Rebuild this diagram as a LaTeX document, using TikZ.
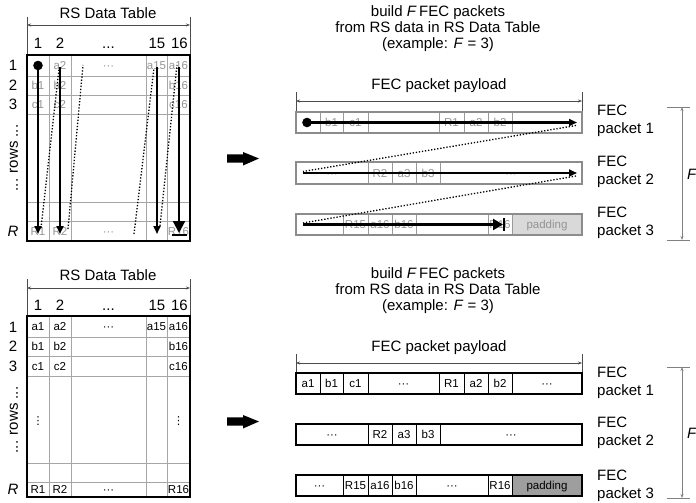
\documentclass[tikz,border=0pt]{standalone}
\usepackage{fontspec}
\setmainfont{Liberation Sans}
\newfontfamily\dvsfont{DejaVu Sans}
\usetikzlibrary{arrows.meta}
\newcommand\pc[7]{\node[pcellbase,#6,minimum width={(#3-#2)*1pt},minimum height={(#5-#4)*1pt}] (#1) at ({(#2+#3)/2},{(#4+#5)/2}) {#7};}
\tikzset{
  big/.style={font=\fontsize{15}{18}\selectfont, inner sep=0pt},
  colnum/.style={big, anchor=base},
  celltext/.style={font=\fontsize{11.5}{13}\selectfont, inner sep=0pt, text height=9.5pt, text depth=1.3pt},
  ttop/.style={celltext, text=black!42},
  tbot/.style={celltext, text=black},
  pcellbase/.style={draw, inner sep=0pt, font=\fontsize{11.5}{13}\selectfont, text height=9.5pt, text depth=1.3pt, anchor=center},
  gp/.style={draw=black!40, text=black!42, line width=0.8pt},
  bp/.style={draw=black, text=black, line width=0.8pt},
  gpo/.style={draw=black!45, line width=2pt},
  bpo/.style={draw=black, line width=2pt},
  gridl/.style={draw=black!35, line width=0.8pt},
  outerbox/.style={draw=black, line width=2.4pt},
  dimline/.style={draw=black!70, line width=0.6pt},
  dimarr/.style={dimline, {Stealth[length=4pt,width=3pt]}-{Stealth[length=4pt,width=3pt]}},
  fdim/.style={draw=black!50, line width=0.8pt},
  fdimarr/.style={fdim, {Stealth[length=4pt,width=3pt]}-{Stealth[length=4pt,width=3pt]}},
  flow/.style={line width=2.2pt, -{Triangle[length=8pt,width=7pt]}},
  ret/.style={line width=1.3pt, dash pattern=on 1.3pt off 1.8pt},
  pklabel/.style={font=\fontsize{15}{18}\selectfont, inner sep=0pt, align=left, anchor=west},
  headtext/.style={font=\fontsize{15}{16}\selectfont, inner sep=0pt, align=center}
}
\begin{document}
\begin{tikzpicture}[x=1pt,y=-1pt]
\useasboundingbox (0,0) rectangle (696,503);

% ================= TOP TABLE =================
\node[big] (tt) at (108,13) {RS Data Table};
\coordinate (tdl0) at (27,17); \coordinate (tdl1) at (27,55);
\coordinate (tdr0) at (190,17); \coordinate (tdr1) at (190,55);
\draw[dimline] (tdl0) -- (tdl1);
\draw[dimline] (tdr0) -- (tdr1);
\coordinate (tdl) at (27,25); \coordinate (tdr) at (190,25);
\draw[dimarr] (tdl) -- (tdr);
\node[colnum] (tcn1) at (38,48.5) {1};
\node[colnum] (tcn2) at (60,48.5) {2};
\node[colnum] (tcnd) at (108.5,48.5) {...};
\node[colnum] (tcn15) at (157,48.5) {15};
\node[colnum] (tcn16) at (179.5,48.5) {16};
\node[big] (trl1) at (13,65.5) {1};
\node[big] (trl2) at (13,85.5) {2};
\node[big] (trl3) at (13,104.5) {3};
\node[big, rotate=90] (trlrows) at (14,158) {... rows ...};
\node[big] (trlR) at (13,231) {\textit{R}};

\foreach \x in {49,71,146,167} \draw[gridl] (\x,55) -- (\x,241);
\foreach \y in {76,95,114,202,221} \draw[gridl] (27,\y) -- (190,\y);

\node[ttop] (ta2) at (60,65.5) {a2};
\node[ttop] (tad) at (108.5,65.5) {···};
\node[ttop] (ta15) at (156.5,65.5) {a15};
\node[ttop] (ta16) at (178.5,65.5) {a16};
\node[ttop] (tb1) at (38,85.5) {b1};
\node[ttop] (tb2) at (60,85.5) {b2};
\node[ttop] (tb16) at (178.5,85.5) {b16};
\node[ttop] (tc1) at (38,104.5) {c1};
\node[ttop] (tc2) at (60,104.5) {c2};
\node[ttop] (tc16) at (178.5,104.5) {c16};
\node[ttop] (tR1) at (38,231) {R1};
\node[ttop] (tR2) at (60,231) {R2};
\node[ttop] (tRd) at (108.5,231) {···};
\node[ttop] (tR16) at (178.5,231) {R16};

\draw[outerbox] (27,55) rectangle (190,241);

% reading order arrows
\coordinate (s1) at (38,65.5);  \coordinate (e1) at (38,234);
\coordinate (s2) at (60,67);  \coordinate (e2) at (60,234);
\coordinate (s15) at (157,67); \coordinate (e15) at (157,234);
\coordinate (s16) at (179,67); \coordinate (e16) at (179,233);
\fill (s1) circle (4.8);
\draw[flow] (s1) -- (e1);
\draw[flow] (s2) -- (e2);
\draw[flow] (s15) -- (e15);
\draw[line width=2.2pt, -{Triangle[length=12pt,width=12pt]}] (s16) -- (e16);
\coordinate (bar16a) at (172,235); \coordinate (bar16b) at (187,235);
\draw[line width=2pt] (bar16a) -- (bar16b);
\coordinate (r1a) at (41,228);  \coordinate (r1b) at (59,69);
\coordinate (r2a) at (68,229);  \coordinate (r2b) at (83,65);
\coordinate (r3a) at (134,234); \coordinate (r3b) at (154,68);
\coordinate (r4a) at (160,226); \coordinate (r4b) at (177,65);
\draw[ret] (r1a) -- (r1b);
\draw[ret] (r2a) -- (r2b);
\draw[ret] (r3a) -- (r3b);
\draw[ret] (r4a) -- (r4b);

% big arrow top
\fill (227,154.3) -- (243,154.3) -- (243,152) -- (259,158.5) -- (243,165.5) -- (243,162.7) -- (227,162.7) -- cycle;

% ================= TOP RIGHT =================
\node[headtext] (thd) at (438,29) {build \textit{F}\,FEC packets\\from RS data in RS Data Table\\(example: \textit{F} = 3)};
\node[big] (tpl) at (439,86) {FEC packet payload};
\coordinate (tpl0) at (296,92); \coordinate (tpl1) at (296,112);
\coordinate (tpr0) at (582,92); \coordinate (tpr1) at (582,112);
\draw[dimline] (tpl0) -- (tpl1);
\draw[dimline] (tpr0) -- (tpr1);
\coordinate (tpal) at (296,101); \coordinate (tpar) at (582,101);
\draw[dimarr] (tpal) -- (tpar);

\pc{tp1a}{296}{320}{112}{133}{gp}{}
\pc{tp1b}{320}{343}{112}{133}{gp}{b1}
\pc{tp1c}{343}{368}{112}{133}{gp}{c1}
\pc{tp1d}{368}{439}{112}{133}{gp}{···}
\pc{tp1e}{439}{464}{112}{133}{gp}{R1}
\pc{tp1f}{464}{488}{112}{133}{gp}{a2}
\pc{tp1g}{488}{512}{112}{133}{gp}{b2}
\pc{tp1h}{512}{582}{112}{133}{gp}{···}
\draw[gpo] (296,112) rectangle (582,133);

\pc{tp2a}{296}{368}{162}{184}{gp}{···}
\pc{tp2b}{368}{392}{162}{184}{gp}{R2}
\pc{tp2c}{392}{416}{162}{184}{gp}{a3}
\pc{tp2d}{416}{440}{162}{184}{gp}{b3}
\pc{tp2e}{440}{582}{162}{184}{gp}{···}
\draw[gpo] (296,162) rectangle (582,184);

\pc{tp3a}{296}{343}{214}{235}{gp}{···}
\pc{tp3b}{343}{368}{214}{235}{gp}{R15}
\pc{tp3c}{368}{392}{214}{235}{gp}{a16}
\pc{tp3d}{392}{416}{214}{235}{gp}{b16}
\pc{tp3e}{416}{488}{214}{235}{gp}{···}
\pc{tp3f}{488}{512}{214}{235}{gp}{R16}
\pc{tp3g}{512}{582}{214}{235}{gp,fill=black!15}{padding}
\draw[gpo] (296,214) rectangle (582,235);

\coordinate (p1s) at (307,122.5); \coordinate (p1e) at (577,122.5);
\coordinate (p2s) at (303,173);   \coordinate (p2e) at (577,173);
\coordinate (p3s) at (303,224.5); \coordinate (p3e) at (503,224.5);
\fill (p1s) circle (4.8);
\draw[flow] (p1s) -- (p1e);
\draw[flow] (p2s) -- (p2e);
\draw[line width=2.2pt, -{Triangle[length=10pt,width=11pt]}] (p3s) -- (p3e);
\coordinate (p3bara) at (504,218); \coordinate (p3barb) at (504,231);
\draw[line width=2pt] (p3bara) -- (p3barb);
\coordinate (q1a) at (576,125.5); \coordinate (q1b) at (303,171.5);
\coordinate (q2a) at (576,176);   \coordinate (q2b) at (303,223);
\draw[ret] (q1a) -- (q1b);
\draw[ret] (q2a) -- (q2b);

\node[pklabel] (tl1) at (597,120.5) {FEC\\packet 1};
\node[pklabel] (tl2) at (597,172) {FEC\\packet 2};
\node[pklabel] (tl3) at (597,222.5) {FEC\\packet 3};

\coordinate (tf0a) at (667,107); \coordinate (tf0b) at (690,107);
\coordinate (tf1a) at (667,240); \coordinate (tf1b) at (690,240);
\coordinate (tfa) at (682,107); \coordinate (tfb) at (682,240);
\draw[fdim] (tf0a) -- (tf0b);
\draw[fdim] (tf1a) -- (tf1b);
\draw[fdimarr] (tfa) -- (tfb);
\node[big] (tF) at (692,174) {\textit{F}};

% ================= BOTTOM TABLE =================
\node[big] (bt) at (108,275) {RS Data Table};
\coordinate (bdl0) at (27,279); \coordinate (bdl1) at (27,316);
\coordinate (bdr0) at (190,279); \coordinate (bdr1) at (190,316);
\draw[dimline] (bdl0) -- (bdl1);
\draw[dimline] (bdr0) -- (bdr1);
\coordinate (bdl) at (27,288); \coordinate (bdr) at (190,288);
\draw[dimarr] (bdl) -- (bdr);
\node[colnum] (bcn1) at (38,310) {1};
\node[colnum] (bcn2) at (60,310) {2};
\node[colnum] (bcnd) at (108.5,310) {...};
\node[colnum] (bcn15) at (157,310) {15};
\node[colnum] (bcn16) at (179.5,310) {16};
\node[big] (brl1) at (13,327) {1};
\node[big] (brl2) at (13,346.5) {2};
\node[big] (brl3) at (13,366) {3};
\node[big, rotate=90] (brlrows) at (14,420) {... rows ...};
\node[big] (brlR) at (13,489) {\textit{R}};

\foreach \x in {49,71,146,167} \draw[gridl] (\x,316) -- (\x,497);
\foreach \y in {337,356,376,463,482} \draw[gridl] (27,\y) -- (190,\y);

\node[tbot] (ba1) at (38,326.5) {a1};
\node[tbot] (ba2) at (60,326.5) {a2};
\node[tbot] (bad) at (108.5,326.5) {···};
\node[tbot] (ba15) at (156.5,326.5) {a15};
\node[tbot] (ba16) at (178.5,326.5) {a16};
\node[tbot] (bb1) at (38,346.5) {b1};
\node[tbot] (bb2) at (60,346.5) {b2};
\node[tbot] (bb16) at (178.5,346.5) {b16};
\node[tbot] (bc1) at (38,366) {c1};
\node[tbot] (bc2) at (60,366) {c2};
\node[tbot] (bc16) at (178.5,366) {c16};
\node[tbot, font=\dvsfont\fontsize{11}{13}\selectfont] (bv1) at (38,420) {⋮};
\node[tbot, font=\dvsfont\fontsize{11}{13}\selectfont] (bv16) at (178.5,420) {⋮};
\node[tbot] (bR1) at (38,489.5) {R1};
\node[tbot] (bR2) at (60,489.5) {R2};
\node[tbot] (bRd) at (108.5,489.5) {···};
\node[tbot] (bR16) at (178.5,489.5) {R16};

\draw[outerbox] (27,316) rectangle (190,497);

% big arrow bottom
\fill (227,417.3) -- (243,417.3) -- (243,415) -- (259,421.5) -- (243,428.5) -- (243,425.7) -- (227,425.7) -- cycle;

% ================= BOTTOM RIGHT =================
\node[headtext] (bhd) at (438,291) {build \textit{F}\,FEC packets\\from RS data in RS Data Table\\(example: \textit{F} = 3)};
\node[big] (bpl) at (439,348) {FEC packet payload};
\coordinate (bpl0) at (296,354); \coordinate (bpl1) at (296,373);
\coordinate (bpr0) at (582,354); \coordinate (bpr1) at (582,373);
\draw[dimline] (bpl0) -- (bpl1);
\draw[dimline] (bpr0) -- (bpr1);
\coordinate (bpal) at (296,363); \coordinate (bpar) at (582,363);
\draw[dimarr] (bpal) -- (bpar);

\pc{bp1a}{296}{320}{373}{394}{bp}{a1}
\pc{bp1b}{320}{343}{373}{394}{bp}{b1}
\pc{bp1c}{343}{368}{373}{394}{bp}{c1}
\pc{bp1d}{368}{439}{373}{394}{bp}{···}
\pc{bp1e}{439}{464}{373}{394}{bp}{R1}
\pc{bp1f}{464}{488}{373}{394}{bp}{a2}
\pc{bp1g}{488}{512}{373}{394}{bp}{b2}
\pc{bp1h}{512}{582}{373}{394}{bp}{···}
\draw[bpo] (296,373) rectangle (582,394);

\pc{bp2a}{296}{368}{424}{445}{bp}{···}
\pc{bp2b}{368}{392}{424}{445}{bp}{R2}
\pc{bp2c}{392}{416}{424}{445}{bp}{a3}
\pc{bp2d}{416}{440}{424}{445}{bp}{b3}
\pc{bp2e}{440}{582}{424}{445}{bp}{···}
\draw[bpo] (296,424) rectangle (582,445);

\pc{bp3a}{296}{343}{475}{496}{bp}{···}
\pc{bp3b}{343}{368}{475}{496}{bp}{R15}
\pc{bp3c}{368}{392}{475}{496}{bp}{a16}
\pc{bp3d}{392}{416}{475}{496}{bp}{b16}
\pc{bp3e}{416}{488}{475}{496}{bp}{···}
\pc{bp3f}{488}{512}{475}{496}{bp}{R16}
\pc{bp3g}{512}{582}{475}{496}{bp,fill=black!38}{padding}
\draw[bpo] (296,475) rectangle (582,496);

\node[pklabel] (bl1) at (597,382.5) {FEC\\packet 1};
\node[pklabel] (bl2) at (597,433) {FEC\\packet 2};
\node[pklabel] (bl3) at (597,485.5) {FEC\\packet 3};

\coordinate (bf0a) at (667,367); \coordinate (bf0b) at (690,367);
\coordinate (bf1a) at (667,498); \coordinate (bf1b) at (690,498);
\coordinate (bfa) at (682,367); \coordinate (bfb) at (682,498);
\draw[fdim] (bf0a) -- (bf0b);
\draw[fdim] (bf1a) -- (bf1b);
\draw[fdimarr] (bfa) -- (bfb);
\node[big] (bF) at (692,433) {\textit{F}};
\end{tikzpicture}
\end{document}
